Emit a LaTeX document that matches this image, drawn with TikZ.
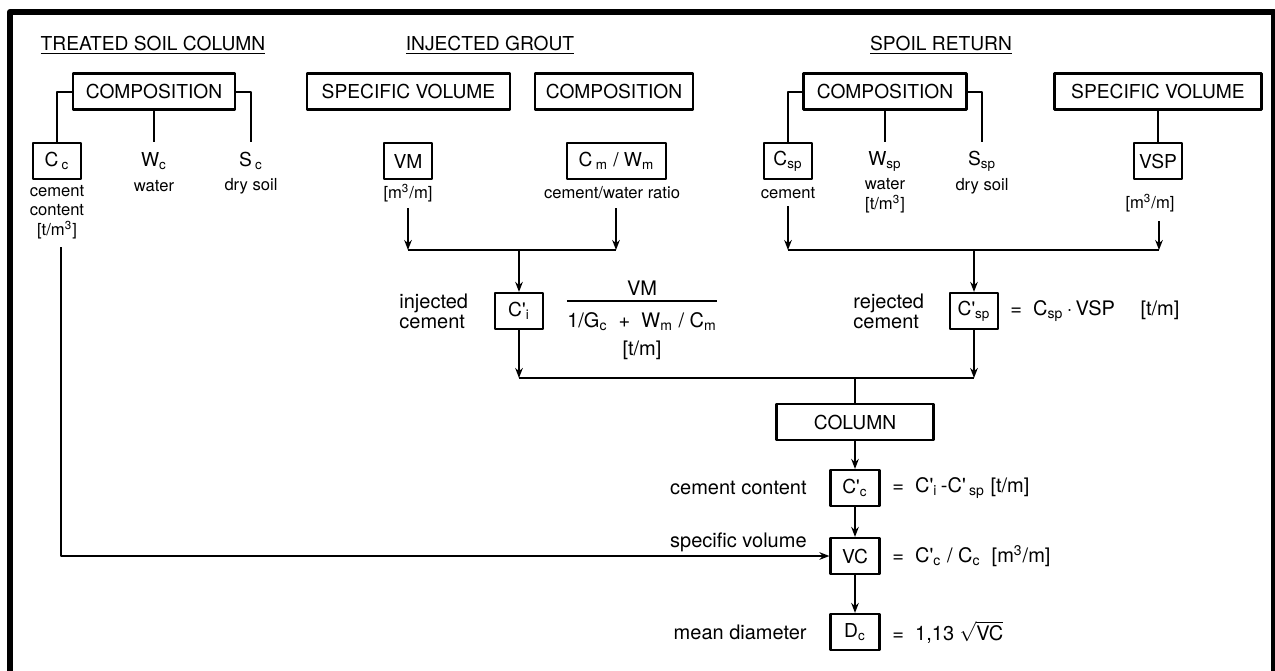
\documentclass[tikz,border=0pt]{standalone}
\usepackage{fontspec}
\setmainfont{TeX Gyre Heros}
\usetikzlibrary{arrows.meta}

\newcommand{\sbs}[1]{\textsubscript{#1}}
\newcommand{\sps}[1]{\textsuperscript{#1}}
\newcommand{\prm}{\textquotesingle}

\begin{document}
\begin{tikzpicture}[x=0.5pt, y=-0.5pt, line join=round,
    box/.style={draw, line width=1.1pt, minimum height=18pt, inner sep=2pt,
      font=\fontsize{9.6}{11}\selectfont},
    bare/.style={box, draw=none},
    head/.style={inner sep=0pt, font=\fontsize{9.6}{11}\selectfont},
    small/.style={inner sep=0pt, align=center, font=\fontsize{8.3}{9.8}\selectfont},
    mid/.style={inner sep=0pt, font=\fontsize{10}{10}\selectfont},
    link/.style={line width=1pt},
    flow/.style={line width=1pt, -{Stealth[length=5pt,width=3.8pt]}}]

  \useasboundingbox (0,0) rectangle (1275,670);

  % outer frame (open at the bottom)
  \draw[line width=3pt] (10,672) -- (10,12) -- (1274,12) -- (1274,672);

  % headings
  \node[head] (hSoil)  at (153,45) {\underline{TREATED SOIL COLUMN}};
  \node[head] (hGrout) at (490,45) {\underline{INJECTED GROUT}};
  \node[head] (hSpoil) at (941,45) {\underline{SPOIL RETURN}};

  % treated soil column
  \node[box, minimum width=81pt] (compA) at (154,91.5) {COMPOSITION};
  \node[box, minimum width=24pt] (Cc) at (57,161) {C\,\sbs{c}};
  \node[bare] (Wc) at (154,161) {W\sbs{c}};
  \node[bare] (Sc) at (251,161) {S\,\sbs{c}};
  \node[small] (CcLbl) at (57,212) {cement\\content\\{[t/m\sps{3}]}};
  \node[small] (WcLbl) at (154,186) {water};
  \node[small] (ScLbl) at (251,186) {dry soil};
  \draw[link] (compA.west) -| (Cc.north);
  \draw[link] (compA.south) -- (Wc.north);
  \draw[link] (compA.east) -| (Sc.north);

  % injected grout
  \node[box, minimum width=101.5pt] (svA) at (408.5,91.5) {SPECIFIC VOLUME};
  \node[box, minimum width=79pt] (compB) at (614,91.5) {COMPOSITION};
  \node[box, minimum width=24pt] (VM) at (408,161) {VM};
  \node[box, minimum width=49.5pt] (CmWm) at (616.5,161) {C\,\sbs{m} / W\sbs{m}};
  \node[small] (VMLbl) at (408,193) {{[m\sps{3}/m]}};
  \node[small] (CmWmLbl) at (612,193) {cement/water ratio};
  \coordinate (vmTop) at (408,208);
  \coordinate (cwTop) at (616,208);
  \coordinate (vmIn) at (408,250);
  \coordinate (cwIn) at (616,250);
  \coordinate (jGrout) at (519,250);
  \draw[flow] (vmTop) -- (vmIn);
  \draw[flow] (cwTop) -- (cwIn);
  \draw[link] (vmIn) -- (cwIn);

  \node[box, minimum width=24pt] (Ci) at (519,311) {C\prm\sbs{i}};
  \draw[flow] (jGrout) -- (Ci.north);
  \node[mid, anchor=west, align=left] (CiLbl) at (399,311) {injected\\cement};
  \node[mid] (num) at (642,288) {VM};
  \node[mid] (den) at (642,322) {1/G\sbs{c} \ + \ W\sbs{m} / C\sbs{m}};
  \draw[line width=0.8pt] ([yshift=5.8pt]den.north west) -- ([yshift=5.8pt]den.north east);
  \node[mid] (tmA) at (642,350) {{[t/m]}};
  \coordinate (ciOut) at (519,378);
  \draw[flow] (Ci.south) -- (ciOut);

  % spoil return
  \node[box, minimum width=81.5pt] (compC) at (885,91.5) {COMPOSITION};
  \node[box, minimum width=103.5pt] (svB) at (1158,91.5) {SPECIFIC VOLUME};
  \node[box, minimum width=24pt] (Csp) at (788,161) {C\sbs{sp}};
  \node[bare] (Wsp) at (885,161) {W\sbs{sp}};
  \node[bare] (Ssp) at (982,161) {S\sbs{sp}};
  \node[box, minimum width=24pt] (VSP) at (1158,161) {VSP};
  \node[small] (CspLbl) at (788,193) {cement};
  \node[small] (WspLbl) at (885,196) {water\\{[t/m\sps{3}]}};
  \node[small] (SspLbl) at (982,186) {dry soil};
  \node[small] (VSPLbl) at (1150,203) {{[m\sps{3}/m]}};
  \draw[link] (compC.west) -| (Csp.north);
  \draw[link] (compC.south) -- (Wsp.north);
  \draw[link] (compC.east) -| (Ssp.north);
  \draw[link] (svB.south) -- (VSP.north);
  \coordinate (cspTop) at (788,206);
  \coordinate (vspTop) at (1159,221);
  \coordinate (cspIn) at (788,250);
  \coordinate (vspIn) at (1159,250);
  \coordinate (jSpoil) at (974,250);
  \draw[flow] (cspTop) -- (cspIn);
  \draw[flow] (vspTop) -- (vspIn);
  \draw[link] (cspIn) -- (vspIn);

  \node[box, minimum width=24pt] (CspP) at (974,311) {C\prm\sbs{sp}};
  \draw[flow] (jSpoil) -- (CspP.north);
  \node[mid, anchor=west, align=left] (CspPLbl) at (853,311) {rejected\\cement};
  \node[mid, anchor=west] (CspPEq) at (1010,311) {= \ C\sbs{sp}\,·\,VSP \quad [t/m]};
  \coordinate (cspOut) at (974,378);
  \draw[flow] (CspP.south) -- (cspOut);
  \draw[link] (ciOut) -- (cspOut);

  % column
  \coordinate (jCol) at (855,378);
  \node[box, minimum width=78.5pt] (Col) at (855,422) {COLUMN};
  \node[box, minimum width=24.5pt] (CcP) at (855,488) {C\prm\sbs{c}};
  \node[box, minimum width=24.5pt] (VC) at (855,556) {VC};
  \node[box, minimum width=24.5pt] (Dc) at (855,632) {D\sbs{c}};
  \draw[link] (jCol) -- (Col.north);
  \draw[flow] (Col.south) -- (CcP.north);
  \draw[flow] (CcP.south) -- (VC.north);
  \draw[flow] (VC.south) -- (Dc.north);

  \node[mid, anchor=east] (CcPLbl) at (807,488) {cement content};
  \node[mid, anchor=east] (VCLbl) at (807,542) {specific volume};
  \node[mid, anchor=east] (DcLbl) at (807,632) {mean diameter};
  \node[mid, anchor=west] (CcPEq) at (892,488) {= \ C\prm\sbs{i}\,-C\prm\,\sbs{sp} [t/m]};
  \node[mid, anchor=west] (VCEq) at (892,556) {= \ C\prm\sbs{c} / C\sbs{c} \ [m\sps{3}/m]};
  \node[mid, anchor=west] (DcEq) at (892,632) {= \ 1,13 \(\sqrt{\mbox{VC}}\)};

  % cement content feeds the specific volume
  \coordinate (feed) at (61,247);
  \draw[flow] (feed) |- (VC.west);

\end{tikzpicture}
\end{document}
